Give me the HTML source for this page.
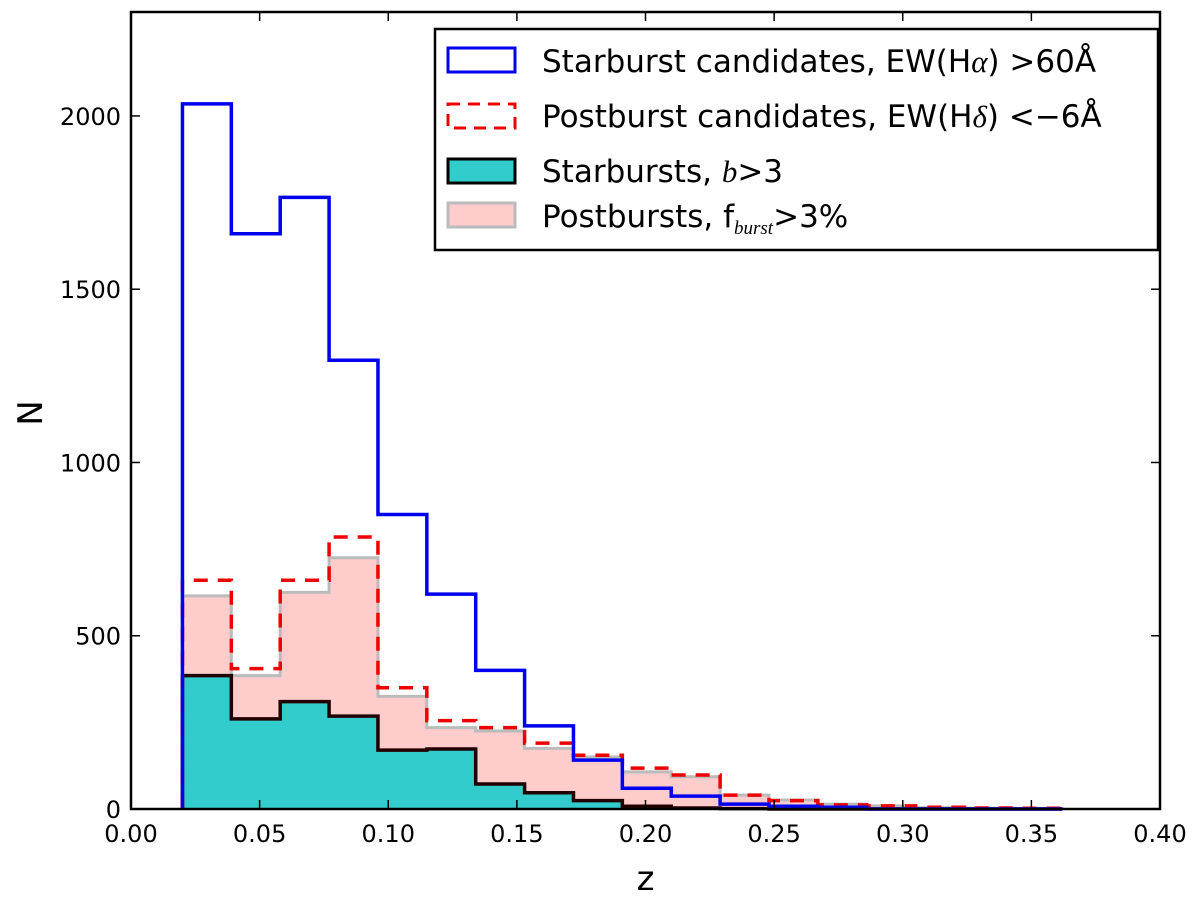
<!DOCTYPE html>
<html><head><meta charset="utf-8"><style>
body{margin:0;background:#fff;}
svg text{font-family:"DejaVu Sans","Liberation Sans",sans-serif;}
</style></head><body>
<svg id="chart" width="1200" height="894" xmlns="http://www.w3.org/2000/svg">
<g id="marks"></g>
<g id="axes"></g>
<g id="legend">
 <rect x="435" y="29" width="723" height="221" fill="#fff" stroke="#000" stroke-width="2.5"/>
 <rect x="448" y="48" width="67" height="24" fill="none" stroke="#0000ee" stroke-width="3"/>
 <text x="542" y="72" font-size="31">Starburst candidates, EW(H<tspan font-style="italic" font-family="Liberation Serif">α</tspan>) &gt;60Å</text>
 <rect x="448" y="104" width="67" height="24" fill="none" stroke="#ee0000" stroke-width="3" stroke-dasharray="12,8"/>
 <text x="542" y="127" font-size="31">Postburst candidates, EW(H<tspan font-style="italic" font-family="Liberation Serif">δ</tspan>) &lt;−6Å</text>
 <rect x="448" y="159" width="67" height="24" fill="#33cccc" stroke="#000" stroke-width="3"/>
 <text x="542" y="182" font-size="31">Starbursts, <tspan font-style="italic" font-family="Liberation Serif">b</tspan>&gt;3</text>
 <rect x="448" y="203" width="67" height="24" fill="#ffcccc" stroke="#bbbbbb" stroke-width="3"/>
 <text x="542" y="227" font-size="31">Postbursts, f<tspan font-size="19" dy="7" font-style="italic" font-family="Liberation Serif">burst</tspan><tspan dy="-7">&gt;3%</tspan></text>
</g>
</svg>
<script>
const binStart = 0.02;
const binWidth = 0.019;
const starburstCandidates = [2035,1660,1765,1295,850,620,400,240,141,60,37,14,8,5,0,0,0,0];
const postburstCandidates = [660,405,660,785,350,255,235,190,155,118,98,40,24,12,9,5,3,2];
const postbursts = [615,385,625,725,325,235,225,175,150,107,93,40,26,14,9,4,2,1];
const starbursts = [385,260,310,268,170,173,72,47,24,8,3,1,0,0,0,0,0,0];
const xTicks = [0,0.05,0.10,0.15,0.20,0.25,0.30,0.35,0.40];
const yTicks = [0,500,1000,1500,2000];
const X0=131,X1=1160,Y0=809,Y1=12,XMAX=0.4,YMAX=2300;
const sx=v=>X0+v/XMAX*(X1-X0);
const sy=v=>Y0-v/YMAX*(Y0-Y1);
const NS="http://www.w3.org/2000/svg";
function stepPath(vals){
  let d="M"+sx(binStart)+","+sy(0);
  vals.forEach((v,i)=>{const a=sx(binStart+i*binWidth),b=sx(binStart+(i+1)*binWidth);d+=" L"+a+","+sy(v)+" L"+b+","+sy(v);});
  d+=" L"+sx(binStart+vals.length*binWidth)+","+sy(0);
  return d;
}
const marks=document.getElementById('marks');
function add(vals,fill,stroke,w,dash,name){
  const p=document.createElementNS(NS,'path');
  p.setAttribute('d',stepPath(vals));
  p.setAttribute('fill',fill);p.setAttribute('stroke',stroke);p.setAttribute('stroke-width',w);
  if(dash)p.setAttribute('stroke-dasharray',dash);
  p.setAttribute('stroke-linejoin','miter');
  
  
  marks.appendChild(p);
}
add(postbursts,'#ffcccc','#bbbbbb',3,null,'postbursts-series');
add(starbursts,'#33cccc','#220000',3.5,null,'starbursts-series');
add(postburstCandidates,'none','#ee0000',3.5,'14,10','postburst-candidates-series');
add(starburstCandidates,'none','#0000ee',3.5,null,'starburst-candidates-series');
const axes=document.getElementById('axes');
const frame=document.createElementNS(NS,'rect');
frame.setAttribute('x',X0);frame.setAttribute('y',Y1);frame.setAttribute('width',X1-X0);frame.setAttribute('height',Y0-Y1);
frame.setAttribute('fill','none');frame.setAttribute('stroke','#000');frame.setAttribute('stroke-width','2.5');


axes.appendChild(frame);
function line(x1,y1,x2,y2){const l=document.createElementNS(NS,'line');l.setAttribute('x1',x1);l.setAttribute('y1',y1);l.setAttribute('x2',x2);l.setAttribute('y2',y2);l.setAttribute('stroke','#000');l.setAttribute('stroke-width','1.5');


axes.appendChild(l);}
function text(x,y,s,anchor,size,name){const t=document.createElementNS(NS,'text');t.setAttribute('x',x);t.setAttribute('y',y);t.setAttribute('text-anchor',anchor);t.setAttribute('font-size',size);t.textContent=s;


axes.appendChild(t);return t;}
xTicks.forEach(v=>{const x=sx(v);line(x,Y0,x,Y0-9);line(x,Y1,x,Y1+9);text(x,Y0+33,v.toFixed(2),'middle',24,'x-tick-label');});
yTicks.forEach(v=>{const y=sy(v);line(X0,y,X0+9,y);line(X1,y,X1-9,y);text(X0-10,y+9,String(v),'end',24,'y-tick-label');});
text((X0+X1)/2,890,'z','middle',34,'x-axis-title');
const yt=text(42,413,'N','middle',34,'y-axis-title');yt.setAttribute('transform','rotate(-90 42 413)');
</script>
</body></html>
